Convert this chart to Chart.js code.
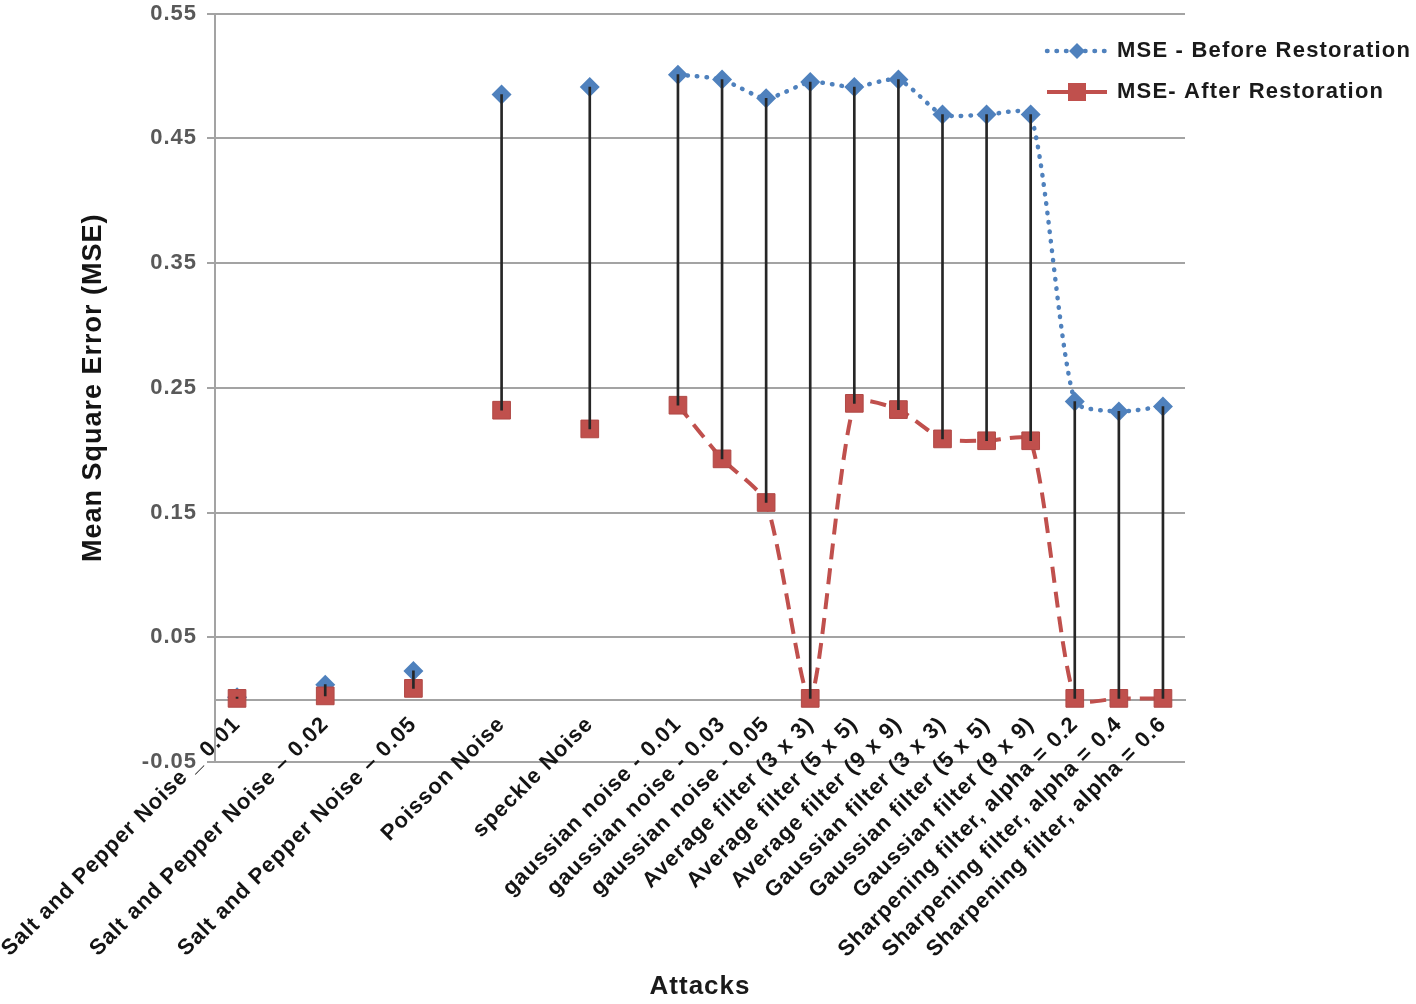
<!DOCTYPE html>
<html>
<head>
<meta charset="utf-8">
<title>MSE before and after restoration</title>
<script src="https://cdn.jsdelivr.net/npm/chart.js@4.4.1/dist/chart.umd.min.js"></script>
<style>
  html, body { margin: 0; padding: 0; background: #fff; }
  #wrap { width: 1416px; height: 1004px; }
</style>
</head>
<body>
<div id="wrap"><canvas id="myChart" width="1416" height="1004"></canvas></div>
<script>
// empty slots keep the spacing of the original sheet (blank columns)
const categories = [
    'Salt and Pepper Noise _ 0.01', '',
    'Salt and Pepper Noise \u2013 0.02', '',
    'Salt and Pepper Noise \u2013 0.05', '',
    'Poisson Noise', '',
    'speckle Noise', '',
    'gaussian noise - 0.01',
    'gaussian noise - 0.03',
    'gaussian noise - 0.05',
    'Average filter (3 x 3)',
    'Average filter (5 x 5)',
    'Average filter (9 x 9)',
    'Gaussian filter (3 x 3)',
    'Gaussian filter (5 x 5)',
    'Gaussian filter (9 x 9)',
    'Sharpening filter, alpha = 0.2',
    'Sharpening filter, alpha = 0.4',
    'Sharpening filter, alpha = 0.6'
];
const mseBefore = [0.002, null, 0.012, null, 0.023, null, 0.485, null, 0.491, null,
    0.501, 0.497, 0.482, 0.495, 0.491, 0.497, 0.469, 0.469, 0.469, 0.239, 0.231, 0.235];
const mseAfter = [0.001, null, 0.003, null, 0.009, null, 0.232, null, 0.217, null,
    0.236, 0.193, 0.158, 0.001, 0.2375, 0.2325, 0.209, 0.2075, 0.2075, 0.001, 0.001, 0.001];
const yTicks = [-0.05, 0.05, 0.15, 0.25, 0.35, 0.45, 0.55];

const FONT = '"Liberation Sans", Arial, sans-serif';
const BLUE = '#4F81BD';
const RED = '#C0504D';
const GRID = '#a3a3a3';

// high-low lines between the two series
const hiLo = categories.map((c, i) => {
    if (mseBefore[i] == null || mseAfter[i] == null) return null;
    return [Math.min(mseBefore[i], mseAfter[i]), Math.max(mseBefore[i], mseAfter[i])];
});

const spacing = {
    id: 'spacing',
    beforeLayout(chart) { chart.ctx.letterSpacing = '1px'; },
    beforeDraw(chart) { chart.ctx.letterSpacing = '1px'; }
};

// legend sits on the right, over the plot like in Excel
const sideLegend = {
    id: 'sideLegend',
    afterDraw(chart) {
        const ctx = chart.ctx;
        const x0 = 1047, x1 = 1107, xm = 1077, tx = 1117;
        ctx.save();
        ctx.letterSpacing = '1.2px';

        // row 1 : before
        let y = 51;
        ctx.strokeStyle = BLUE;
        ctx.lineWidth = 4.5;
        ctx.lineCap = 'round';
        ctx.setLineDash([0.5, 9]);
        ctx.beginPath(); ctx.moveTo(x0, y); ctx.lineTo(x1, y); ctx.stroke();
        ctx.setLineDash([]);
        ctx.fillStyle = BLUE;
        ctx.beginPath();
        ctx.moveTo(xm - 8, y); ctx.lineTo(xm, y - 8); ctx.lineTo(xm + 8, y); ctx.lineTo(xm, y + 8);
        ctx.closePath(); ctx.fill();

        // row 2 : after
        y = 92;
        ctx.strokeStyle = RED;
        ctx.lineWidth = 4;
        ctx.lineCap = 'butt';
        ctx.beginPath(); ctx.moveTo(x0, y); ctx.lineTo(x1, y); ctx.stroke();
        ctx.fillStyle = RED;
        ctx.fillRect(xm - 9, y - 9, 18, 18);

        ctx.fillStyle = '#1a1a1a';
        ctx.font = 'bold 22px ' + FONT;
        ctx.textBaseline = 'middle';
        ctx.textAlign = 'left';
        ctx.fillText('MSE - Before Restoration', tx, 51);
        ctx.fillText('MSE- After Restoration', tx, 92);
        ctx.restore();
    }
};

var ctx = document.getElementById('myChart');

var myChart = new Chart(ctx, {
    data: {
        labels: categories,
        datasets: [
            {
                type: 'bar',
                label: 'High-Low',
                data: hiLo,
                backgroundColor: '#262626',
                barThickness: 2,
                order: 0
            },
            {
                type: 'line',
                label: 'MSE- After Restoration',
                data: mseAfter,
                borderColor: RED,
                backgroundColor: RED,
                borderWidth: 4,
                borderDash: [16, 9],
                tension: 0.22,
                spanGaps: false,
                pointStyle: 'rect',
                pointRadius: 12.5,
                pointBorderColor: '#b04845',
                pointBorderWidth: 1,
                order: 1
            },
            {
                type: 'line',
                label: 'MSE - Before Restoration',
                data: mseBefore,
                borderColor: BLUE,
                backgroundColor: BLUE,
                borderWidth: 4.5,
                borderDash: [0.5, 9],
                borderCapStyle: 'round',
                tension: 0.22,
                spanGaps: false,
                pointStyle: 'rectRot',
                pointRadius: 10,
                pointBorderWidth: 0,
                order: 2
            }
        ]
    },
    options: {
        responsive: false,
        animation: false,
        layout: {
            padding: { left: 77, right: 231, top: 12, bottom: 0 }
        },
        plugins: {
            legend: { display: false },
            tooltip: { enabled: false },
            title: {
                display: true,
                position: 'bottom',
                fullSize: false,
                text: 'Attacks',
                color: '#1a1a1a',
                font: { family: FONT, size: 26, weight: 'bold' },
                // the top padding keeps the room under the plot for the tick labels
                padding: { top: 1004 - 762 - 31.2 - 2, bottom: 2 }
            }
        },
        scales: {
            x: {
                type: 'category',
                position: { y: 0 },
                offset: true,
                grid: { display: false, drawTicks: false },
                border: { display: true, color: GRID, width: 2 },
                ticks: {
                    autoSkip: false,
                    minRotation: 45,
                    maxRotation: 45,
                    padding: 12,
                    color: '#141414',
                    font: { family: FONT, size: 22, weight: 'bold' }
                },
                afterFit: (scale) => {
                    scale.paddingLeft = 0;
                    scale.paddingRight = 0;
                }
            },
            y: {
                min: -0.05,
                max: 0.55,
                afterBuildTicks: (scale) => {
                    scale.ticks = yTicks.map(v => ({ value: v }));
                },
                grid: { color: GRID, lineWidth: 2, tickLength: 8 },
                border: { color: GRID, width: 2 },
                ticks: {
                    callback: (v) => Number(v).toFixed(2),
                    color: '#595959',
                    padding: 10,
                    font: { family: FONT, size: 22, weight: 'bold' }
                },
                title: {
                    display: true,
                    text: 'Mean Square Error (MSE)',
                    color: '#141414',
                    font: { family: FONT, size: 27, weight: 'bold' },
                    padding: { top: 0, bottom: 0 }
                },
                afterFit: (scale) => {
                    scale.width = 215 - 77;
                    scale.paddingTop = 0;
                    scale.paddingBottom = 0;
                }
            }
        }
    },
    plugins: [spacing, sideLegend]
});
</script>
</body>
</html>
